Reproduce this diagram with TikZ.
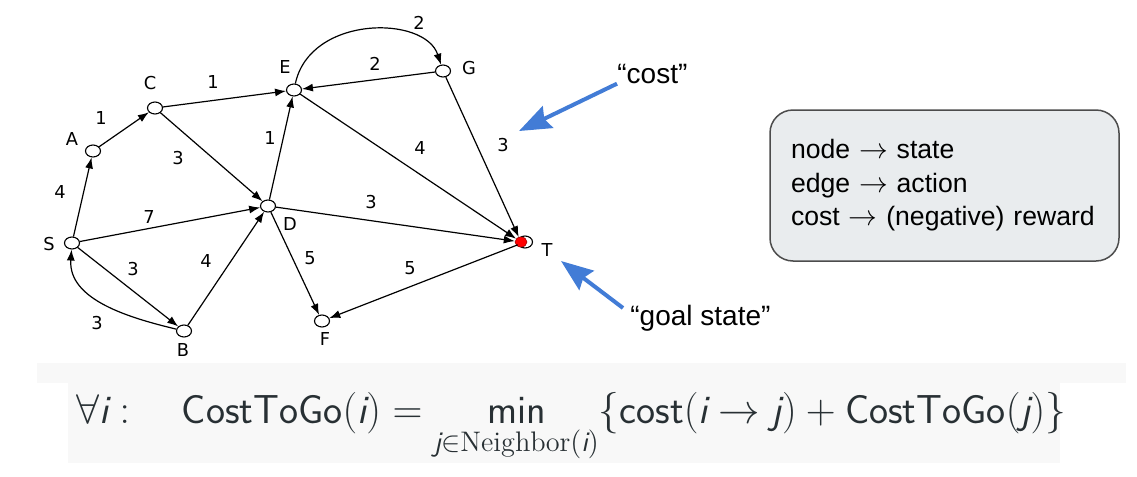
\documentclass[tikz,border=0pt]{standalone}
\usepackage{amsmath}
\usepackage{amssymb}
\usepackage{fontspec}
\newfontfamily\graphfont{DejaVu Sans}
\newfontfamily\slidefont{Liberation Sans}
\usetikzlibrary{
    arrows.meta,
    shapes.geometric
}
\newcommand{\mi}[1]{\textsf{\itshape #1}}
\definecolor{callout}{RGB}{66,124,214}
\definecolor{formulabg}{RGB}{248,248,248}
\definecolor{legendbg}{RGB}{233,236,238}
\definecolor{formulatext}{RGB}{40,48,52}

\begin{document}
\begin{tikzpicture}[x=0.5pt, y=-0.5pt,
    vtx/.style={ellipse, draw, fill=white, line width=0.55pt, inner sep=0pt,
        minimum width=7.5pt, minimum height=6pt},
    goaldot/.style={ellipse, draw=red!60!black, fill=red, line width=0.3pt,
        inner sep=0pt, minimum width=6pt, minimum height=5pt},
    link/.style={-{Latex[length=5.5pt,width=4pt]}, line width=0.6pt},
    wt/.style={font=\graphfont\fontsize{8.9}{10}\selectfont, inner sep=0pt},
    pointer/.style={-{Stealth[length=16pt,width=12pt,inset=2pt]}, line width=2pt, callout},
    note/.style={font=\slidefont\fontsize{14}{16}\selectfont, inner sep=0pt}
]
\useasboundingbox (0,0) rectangle (1137,477);

% Formula background
\fill[formulabg] (37,363) rectangle (1126,383);
\fill[formulabg] (68,383) rectangle (1060,463);

% States
\node[vtx] (S) at (72,243) {};
\node[vtx] (A) at (93,151) {};
\node[vtx] (C) at (155,108) {};
\node[vtx] (E) at (294,90) {};
\node[vtx] (G) at (443,71) {};
\node[vtx] (D) at (268,206) {};
\node[vtx] (B) at (184,331) {};
\node[vtx] (F) at (322,321) {};
\node[vtx] (T) at (525,242) {};
\node[goaldot] (Tdot) at (521,242) {};

% State names
\node[wt] (nameS) at (49,244) {S};
\node[wt] (nameA) at (72,139) {A};
\node[wt] (nameC) at (150,83) {C};
\node[wt] (nameE) at (285,67) {E};
\node[wt] (nameG) at (469,68) {G};
\node[wt] (nameD) at (290,224) {D};
\node[wt] (nameB) at (183,350) {B};
\node[wt] (nameF) at (325,339) {F};
\node[wt] (nameT) at (547,250) {T};

% Actions
\draw[link] (S) -- (A);
\draw[link] (A) -- (C);
\draw[link] (C) -- (E);
\draw[link] (C) -- (D);
\draw[link] (S) -- (D);
\draw[link] (S) -- (B);
\draw[link] (B) -- (D);
\draw[link] (D) -- (E);
\draw[link] (G) -- (E);
\draw[link] (E) -- (Tdot);
\draw[link] (G) -- (Tdot);
\draw[link] (D) -- (Tdot);
\draw[link] (D) -- (F);
\draw[link] (T) -- (F);
\draw[link] (B) .. controls (130,318) and (68,300) .. (S);
\draw[link] (E) .. controls (310,15) and (425,15) .. (G);

% Costs
\node[wt] (wSA) at (60,192) {4};
\node[wt] (wAC) at (101,118) {1};
\node[wt] (wCE) at (213,82) {1};
\node[wt] (wCD) at (178,158) {3};
\node[wt] (wDE) at (270,138) {1};
\node[wt] (wSD) at (149,217) {7};
\node[wt] (wSB) at (133,269) {3};
\node[wt] (wBS) at (97,323) {3};
\node[wt] (wBD) at (206,261) {4};
\node[wt] (wDF) at (310,258) {5};
\node[wt] (wEG) at (419,23) {2};
\node[wt] (wGE) at (375,64) {2};
\node[wt] (wET) at (420,148) {4};
\node[wt] (wGT) at (503,145) {3};
\node[wt] (wDT) at (371,202) {3};
\node[wt] (wTF) at (410,268) {5};

% Callouts
\node[note, anchor=base west] (costlbl) at (617,83) {“cost”};
\coordinate (costtip) at (519,131);
\draw[pointer] (costlbl.south west) -- (costtip);
\node[note, anchor=base west] (goallbl) at (630,325) {“goal state”};
\coordinate (goaltail) at (623,308);
\coordinate (goaltip) at (561,261);
\draw[pointer] (goaltail) -- (goaltip);

% Legend
\node[draw=black!70, line width=0.75pt, fill=legendbg, rounded corners=11.5pt,
    minimum width=174.5pt, minimum height=75.5pt, text width=153.5pt,
    inner xsep=10.5pt, align=left, font=\slidefont\fontsize{13.3}{16.75}\selectfont]
    (legend) at (944.5,185.5)
    {node $\rightarrow$ state\\ edge $\rightarrow$ action\\ cost $\rightarrow$ (negative) reward};

% Bellman equation
\node[anchor=base, inner sep=0pt, text=formulatext, font=\fontsize{20.2}{24}\selectfont]
    (bellman) at (571,423)
    {$\forall \mi{i}:\quad \mathsf{CostToGo}(\mi{i}) =
      \mathop{\mathsf{min}}\limits_{\mi{j}\in\mathrm{Neighbor}(\mi{i})}
      \{\mathsf{cost}(\mi{i}\rightarrow \mi{j}) + \mathsf{CostToGo}(\mi{j})\}$};
\end{tikzpicture}
\end{document}
